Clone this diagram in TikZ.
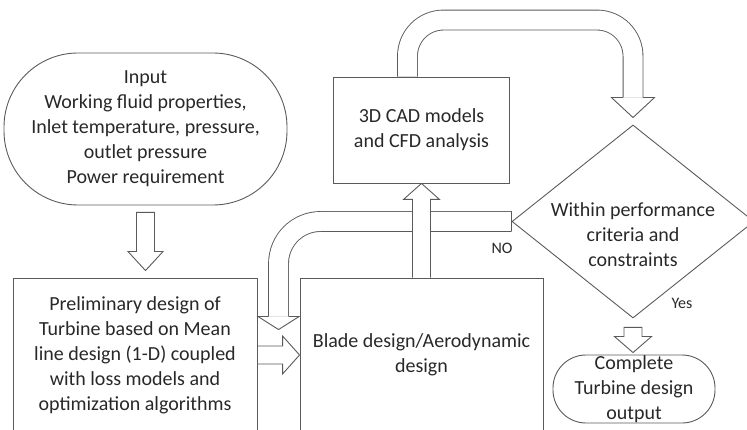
\documentclass[tikz,border=0pt]{standalone}
\usepackage{fontspec}
\setmainfont{Carlito}
\usetikzlibrary{shapes.geometric,calc,backgrounds}
\definecolor{linegray}{RGB}{90,90,90}
\definecolor{textgray}{RGB}{40,40,40}
\tikzset{
  box/.style={draw=linegray, line width=0.9pt, align=center, inner sep=0pt},
  terminal/.style={box, rounded corners=#1},
  decision/.style={draw=linegray, line width=0.9pt, diamond, inner sep=0pt},
  txt/.style={align=center, text=textgray, font=\fontsize{20}{25}\selectfont},
  lbl/.style={txt, font=\fontsize{16}{19}\selectfont},
  tube/.style={draw=linegray, line width=0.9pt, double=white, double distance=#1},
  head/.style={draw=linegray, fill=white, line width=0.9pt, line join=miter}
}
\begin{document}
\begin{tikzpicture}[x=1pt, y=-1pt, every node/.style={txt}]
  \useasboundingbox (0,0) rectangle (747,430);
  \clip (0,0) rectangle (747,430);

  % boxes
  \node[terminal=74pt, minimum width=283pt, minimum height=152pt] (input) at (145.5,129)
    {Input\\Working fluid properties,\\Inlet temperature, pressure,\\outlet pressure\\Power requirement};
  \node[box, minimum width=244pt, minimum height=154pt] (prelim) at (135,355)
    {Preliminary design of\\Turbine based on Mean\\line design (1-D) coupled\\with loss models and\\optimization algorithms};
  \node[box, minimum width=243pt, minimum height=154pt] (blade) at (421.5,355)
    {Blade design/Aerodynamic\\design};
  \node[box, minimum width=176pt, minimum height=106pt] (cad) at (421.5,130)
    {3D CAD models\\and CFD analysis};
  \node[decision, minimum width=242pt, minimum height=193pt] (check) at (633,221.5) {};
  \node (checktext) at (633,235) {Within performance\\criteria and\\constraints};
  \node[terminal=33pt, minimum width=162pt, minimum height=68pt] (output) at (634,389)
    {Complete\\Turbine design\\output};
  \node[lbl] (no) at (502,248) {NO};
  \node[lbl] (yes) at (682,303) {Yes};

  \begin{scope}[on background layer]
    % input -> preliminary
    \coordinate (a1) at ($(input.south)+(0,7)$);
    \coordinate (a2) at ($(a1 |- prelim.north)+(0,-7)$);
    \filldraw[head] ($(a1)+(-9,0)$) -- ($(a1)+(9,0)$) -- ($(a2)+(9,-19)$) -- ($(a2)+(17.5,-19)$)
      -- (a2) -- ($(a2)+(-17.5,-19)$) -- ($(a2)+(-9,-19)$) -- cycle;

    % check -> output
    \coordinate (b1) at ($(check.south)+(0,9)$);
    \coordinate (b2) at ($(b1 |- output.north)+(0,-2)$);
    \filldraw[head] ($(b1)+(-9,0)$) -- ($(b1)+(9,0)$) -- ($(b2)+(9,-16)$) -- ($(b2)+(18.5,-16)$)
      -- (b2) -- ($(b2)+(-18.5,-16)$) -- ($(b2)+(-9,-16)$) -- cycle;

    % preliminary -> blade
    \filldraw[head] ($(prelim.east)+(0,-9)$) -- ($(blade.west)+(-17,-9)$) -- ($(blade.west)+(-17,-19)$)
      -- (blade.west) -- ($(blade.west)+(-17,19)$) -- ($(blade.west)+(-17,9)$) -- ($(prelim.east)+(0,9)$);

    % NO loop back to blade
    \coordinate (notip) at ($(blade.north west)+(-21,52)$);
    \draw[tube=19pt, rounded corners=42pt] (check.west) -| ($(notip)+(0,-13)$);
    \draw[draw=linegray, line width=0.9pt] ($(check.west)+(0,-10)$) -- ($(check.west)+(0,10)$);
    \filldraw[head] ($(notip)+(-10,-13)$) -- ($(notip)+(-20.5,-13)$) -- (notip)
      -- ($(notip)+(20.5,-13)$) -- ($(notip)+(10,-13)$);

    % blade -> cad
    \filldraw[head] ($(blade.north)+(-9,0)$) -- ($(cad.south)+(-9,16)$) -- ($(cad.south)+(-18,16)$)
      -- (cad.south) -- ($(cad.south)+(18,16)$) -- ($(cad.south)+(9,16)$) -- ($(blade.north)+(9,0)$);

    % cad -> check loop
    \coordinate (looptip) at ($(check.north)+(0,-7)$);
    \draw[tube=19pt, rounded corners=36pt] ($(cad.north)+(-14,0)$) -- ++(0,-56.5) -| ($(looptip)+(0,-20)$);
    \filldraw[head] ($(looptip)+(-10,-20)$) -- ($(looptip)+(-21.5,-20)$) -- (looptip)
      -- ($(looptip)+(21.5,-20)$) -- ($(looptip)+(10,-20)$);
  \end{scope}
\end{tikzpicture}
\end{document}
